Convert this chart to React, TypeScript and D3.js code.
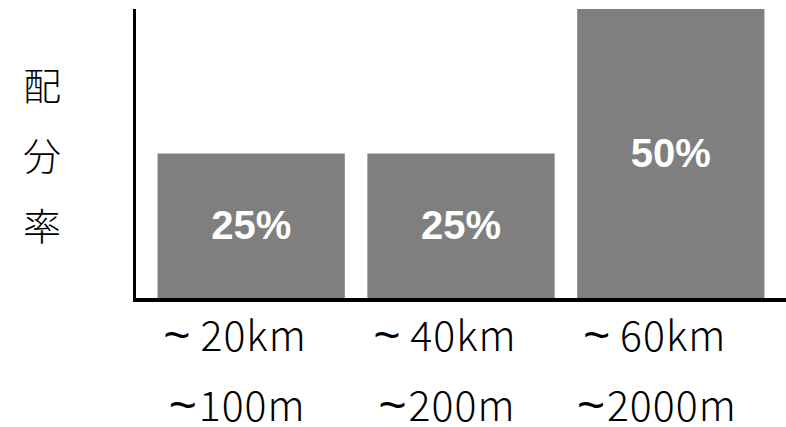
import React from "react";
import * as d3 from "d3";

const categories = ["A", "B", "C"];
const values = [25, 25, 50];
const valueLabels = ["25%", "25%", "50%"];
const tickLine1 = ["20km", "40km", "60km"];
const tickLine2 = ["100m", "200m", "2000m"];
const tildeChar = "~";
const yTitle = ["配", "分", "率"];

const W = 786;
const H = 427;

export default function App() {
  const x = d3.scaleBand<string>().domain(categories).range([135, 787]).padding(0.1075);
  const y = d3.scaleLinear().domain([0, 50]).range([298, 9]);
  const jp = "'Noto Sans CJK JP', 'Noto Sans', sans-serif";
  const tildeFont = "'Liberation Sans', Arial, sans-serif";
  return (
    <svg width={W} height={H} style={{ position: "absolute", left: 0, top: 0, background: "#fff" }}>
      {categories.map((c, i) => (
        <g key={c}>
          <rect x={x(c)} y={y(values[i])} width={x.bandwidth()} height={y(0) - y(values[i])} fill="#7f7f7f" />
          <text
            x={(x(c) as number) + x.bandwidth() / 2}
            y={(y(values[i]) + y(0)) / 2 - 1}
            textAnchor="middle"
            dominantBaseline="central"
            fill="#fff"
            fontFamily="'Liberation Sans', Arial, sans-serif"
            fontWeight="bold"
            fontSize={40}
          >
            {valueLabels[i]}
          </text>
          <text
            x={(x(c) as number) + x.bandwidth() / 2 - 16}
            y={351}
            textAnchor="middle"
            fill="#000"
            fontFamily={jp}
            fontWeight={300}
            fontSize={41}
            letterSpacing={1}
          >
            <tspan fontFamily={tildeFont} fontSize={46}>{tildeChar}</tspan>
            <tspan dx={9}>{tickLine1[i]}</tspan>
          </text>
          <text
            x={(x(c) as number) + x.bandwidth() / 2 - 14}
            y={421}
            textAnchor="middle"
            fill="#000"
            fontFamily={jp}
            fontWeight={300}
            fontSize={41}
            letterSpacing={1}
          >
            <tspan fontFamily={tildeFont} fontSize={48}>{tildeChar}</tspan>
            <tspan dx={1}>{tickLine2[i]}</tspan>
          </text>
        </g>
      ))}
      <line x1={134.5} x2={134.5} y1={9} y2={302} stroke="#000" strokeWidth={3} />
      <line x1={133} x2={786} y1={300} y2={300} stroke="#000" strokeWidth={4} />
      {yTitle.map((t, i) => (
        <text
          key={t}
          x={42}
          y={(y(0) + y(50)) / 2 + (i - 1) * 70}
          textAnchor="middle"
          dominantBaseline="central"
          fontFamily={jp}
          fontWeight={300}
          fontSize={38}
          fill="#000"
        >
          {t}
        </text>
      ))}
    </svg>
  );
}
